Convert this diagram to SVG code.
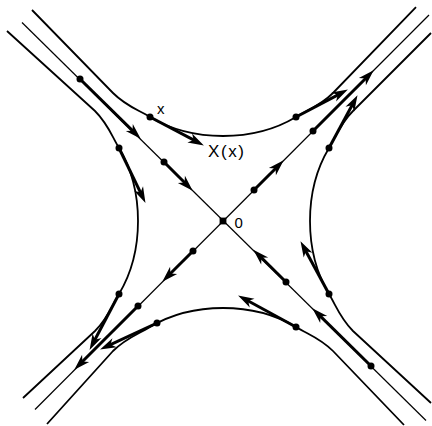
<svg xmlns="http://www.w3.org/2000/svg" width="432" height="426" viewBox="0 0 432 426">
<style>
.curve{fill:none;stroke:#000;stroke-width:1.8;stroke-linejoin:round}
.diag{fill:none;stroke:#000;stroke-width:1.2}
.vec{fill:none;stroke:#000;stroke-width:3;marker-end:url(#ah)}
.pt{fill:#000}
.lbl{font-family:"Liberation Sans",Arial,sans-serif;fill:#000}
</style>
<defs>
<marker id="ah" markerUnits="userSpaceOnUse" markerWidth="24" markerHeight="14" refX="15" refY="7" orient="auto" overflow="visible">
<path d="M23,7 L7,2 L11.5,7 L7,12 Z" fill="#000"/>
</marker>
</defs>
<rect width="432" height="426" fill="#fff"/>
<g id="trajectories">
<g id="branch-top" transform="translate(223,221)">
<path class="curve" d="M-191,-211 L-110,-128 C-97,-115 -86,-111.8 -73,-104 C-49,-89.6 -24,-85 0,-85 C24,-85 49,-89.6 73,-104 C86,-111.8 97,-115 110,-128 L193,-214"/>
</g>
<g id="branch-right" transform="translate(223,221) rotate(90) translate(0,-2)">
<path class="curve" d="M-188,-206 L-110,-128 C-97,-115 -86,-111.8 -73,-104 C-49,-89.6 -24,-85 0,-85 C24,-85 49,-89.6 73,-104 C86,-111.8 97,-115 110,-128 L182,-206"/>
</g>
<g id="branch-left" transform="translate(223,221) rotate(-90)">
<path class="curve" d="M-177,-200 L-110,-128 C-97,-115 -86,-111.8 -73,-104 C-49,-89.6 -24,-85 0,-85 C24,-85 49,-89.6 73,-104 C86,-111.8 97,-115 110,-128 L190,-216"/>
</g>
<g id="branch-bottom" transform="translate(223,221) rotate(180) translate(0,-2)">
<path class="curve" d="M-181,-202 L-110,-128 C-97,-115 -86,-111.8 -73,-104 C-49,-89.6 -24,-85 0,-85 C24,-85 49,-89.6 73,-104 C86,-111.8 97,-115 110,-128 L176,-201"/>
</g>
<g id="stable-manifold"><path class="diag" d="M22,22.5 L426,420.5"/></g>
<g id="unstable-manifold"><path class="diag" d="M35,409.5 L429,15"/></g>
</g>
<g id="vectors">
<path class="vec" d="M80,79 L135,133.1"/>
<path class="vec" d="M164,162 L187.05,185.05"/>
<path class="vec" d="M286,282 L259,255.4"/>
<path class="vec" d="M371,366 L318,313.9"/>
<path class="vec" d="M254,190 L278.05,165.95"/>
<path class="vec" d="M313,131 L368.05,75.95"/>
<path class="vec" d="M193,251 L167.95,276.05"/>
<path class="vec" d="M138,306 L79.95,364.05"/>
<path class="vec" d="M150,117 L196.8,141.7"/>
<path class="vec" d="M296,117 L340.8,93.3"/>
<path class="vec" d="M119,148 L142,195.7"/>
<path class="vec" d="M119,294 L93.3,342.8"/>
<path class="vec" d="M329,148 L353.7,102.2"/>
<path class="vec" d="M329,294 L304.3,248.2"/>
<path class="vec" d="M296,327 L245.1,299.3"/>
<path class="vec" d="M157,323 L107.3,346.1"/>
</g>
<g id="points">
<circle class="pt" cx="80" cy="79" r="3.5"/>
<circle class="pt" cx="164" cy="162" r="3.5"/>
<circle class="pt" cx="286" cy="282" r="3.5"/>
<circle class="pt" cx="371" cy="366" r="3.5"/>
<circle class="pt" cx="254" cy="190" r="3.5"/>
<circle class="pt" cx="313" cy="131" r="3.5"/>
<circle class="pt" cx="193" cy="251" r="3.5"/>
<circle class="pt" cx="138" cy="306" r="3.5"/>
<circle class="pt" cx="150" cy="117" r="3.5"/>
<circle class="pt" cx="296" cy="117" r="3.5"/>
<circle class="pt" cx="119" cy="148" r="3.5"/>
<circle class="pt" cx="119" cy="294" r="3.5"/>
<circle class="pt" cx="329" cy="148" r="3.5"/>
<circle class="pt" cx="329" cy="294" r="3.5"/>
<circle class="pt" cx="296" cy="327" r="3.5"/>
<circle class="pt" cx="157" cy="323" r="3.5"/>
</g>
<g id="origin">
<rect class="pt" x="219.6" y="217.6" width="6.8" height="6.8"/>
<text class="lbl" x="234.5" y="227.5" font-size="15">0</text>
</g>
<g id="label-x"><text class="lbl" x="157" y="114" font-size="15">x</text></g>
<g id="label-Xx"><text class="lbl" x="208" y="157" font-size="17" textLength="36">X(x)</text></g>
</svg>
